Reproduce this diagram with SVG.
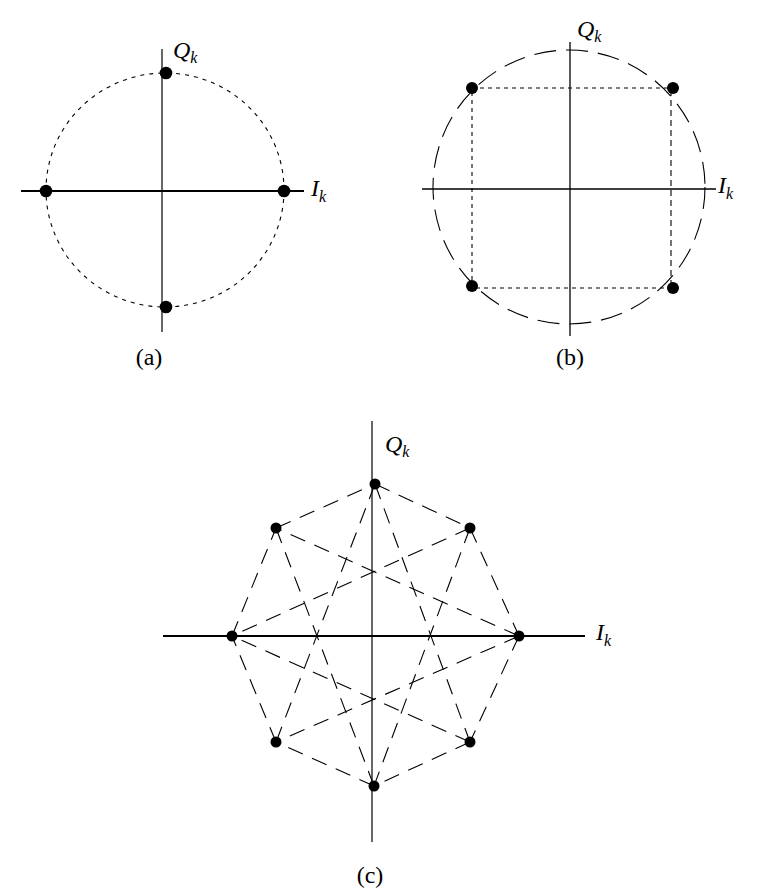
<svg xmlns="http://www.w3.org/2000/svg" width="769" height="890" viewBox="0 0 769 890">
<style>
.ax{stroke:#000;fill:none}
.dot{fill:#000}
.lbl{font-family:"Liberation Serif",serif;font-style:italic;font-size:24px;fill:#000}
.sub{font-size:16px}
.cap{font-family:"Liberation Serif",serif;font-size:24px;fill:#000;text-anchor:middle}
.dsh{stroke:#000;fill:none;stroke-width:1.1}
</style>
<rect width="769" height="890" fill="#fff"/>
<g id="diagram-a">
  <ellipse class="dsh" cx="165" cy="190" rx="119" ry="117" stroke-dasharray="4,5"/>
  <line class="ax" x1="162" y1="49" x2="162" y2="332" stroke-width="1.2"/>
  <line class="ax" x1="21" y1="191" x2="304" y2="191" stroke-width="2"/>
  <circle class="dot" cx="166" cy="73" r="6.3"/>
  <circle class="dot" cx="46" cy="191" r="6.3"/>
  <circle class="dot" cx="284" cy="191" r="6.3"/>
  <circle class="dot" cx="166" cy="307" r="6.3"/>
  <text class="lbl" x="173" y="58">Q<tspan class="sub" dy="5">k</tspan></text>
  <text class="lbl" x="311" y="196">I<tspan class="sub" dy="6">k</tspan></text>
  <text class="cap" x="149" y="365">(a)</text>
</g>
<g id="diagram-b">
  <ellipse class="dsh" cx="569" cy="187" rx="136" ry="137" stroke-dasharray="22,10"/>
  <path class="dsh" d="M672 288 H472 V88 H672" stroke-dasharray="4,4"/>
  <line class="dsh" x1="671" y1="90" x2="671" y2="284" stroke-width="2" stroke-dasharray="6,4"/>
  <line class="ax" x1="570" y1="42" x2="570" y2="336" stroke-width="1.3"/>
  <line class="ax" x1="422" y1="189" x2="716" y2="189" stroke-width="1.3"/>
  <circle class="dot" cx="472" cy="88" r="6"/>
  <circle class="dot" cx="673" cy="88" r="6"/>
  <circle class="dot" cx="472" cy="286" r="6"/>
  <circle class="dot" cx="673" cy="288" r="6"/>
  <text class="lbl" x="577" y="37">Q<tspan class="sub" dy="5">k</tspan></text>
  <text class="lbl" x="718" y="193">I<tspan class="sub" dy="6">k</tspan></text>
  <text class="cap" x="570" y="365">(b)</text>
</g>
<g id="diagram-c">
  <g id="connectors" class="dsh" stroke-dasharray="16,10">
    <line x1="375" y1="484" x2="470" y2="528"/>
    <line x1="470" y1="528" x2="519" y2="636"/>
    <line x1="519" y1="636" x2="470" y2="742"/>
    <line x1="470" y1="742" x2="374" y2="786"/>
    <line x1="374" y1="786" x2="276" y2="742"/>
    <line x1="276" y1="742" x2="232" y2="636"/>
    <line x1="232" y1="636" x2="276" y2="528"/>
    <line x1="276" y1="528" x2="375" y2="484"/>
    <line x1="375" y1="484" x2="470" y2="742"/>
    <line x1="375" y1="484" x2="276" y2="742"/>
    <line x1="470" y1="528" x2="374" y2="786"/>
    <line x1="470" y1="528" x2="232" y2="636"/>
    <line x1="519" y1="636" x2="276" y2="742"/>
    <line x1="519" y1="636" x2="276" y2="528"/>
    <line x1="470" y1="742" x2="232" y2="636"/>
    <line x1="374" y1="786" x2="276" y2="528"/>
  </g>
  <line class="ax" x1="372" y1="421" x2="372" y2="842" stroke-width="1.2"/>
  <line class="ax" x1="163" y1="636" x2="585" y2="636" stroke-width="2"/>
  <circle class="dot" cx="375" cy="484" r="5.5"/>
  <circle class="dot" cx="276" cy="528" r="5.5"/>
  <circle class="dot" cx="470" cy="528" r="5.5"/>
  <circle class="dot" cx="232" cy="636" r="5.5"/>
  <circle class="dot" cx="519" cy="636" r="5.5"/>
  <circle class="dot" cx="276" cy="742" r="5.5"/>
  <circle class="dot" cx="470" cy="742" r="5.5"/>
  <circle class="dot" cx="374" cy="786" r="5.5"/>
  <text class="lbl" x="385" y="452">Q<tspan class="sub" dy="5">k</tspan></text>
  <text class="lbl" x="596" y="640">I<tspan class="sub" dy="6">k</tspan></text>
  <text class="cap" x="370" y="883">(c)</text>
</g>
</svg>
